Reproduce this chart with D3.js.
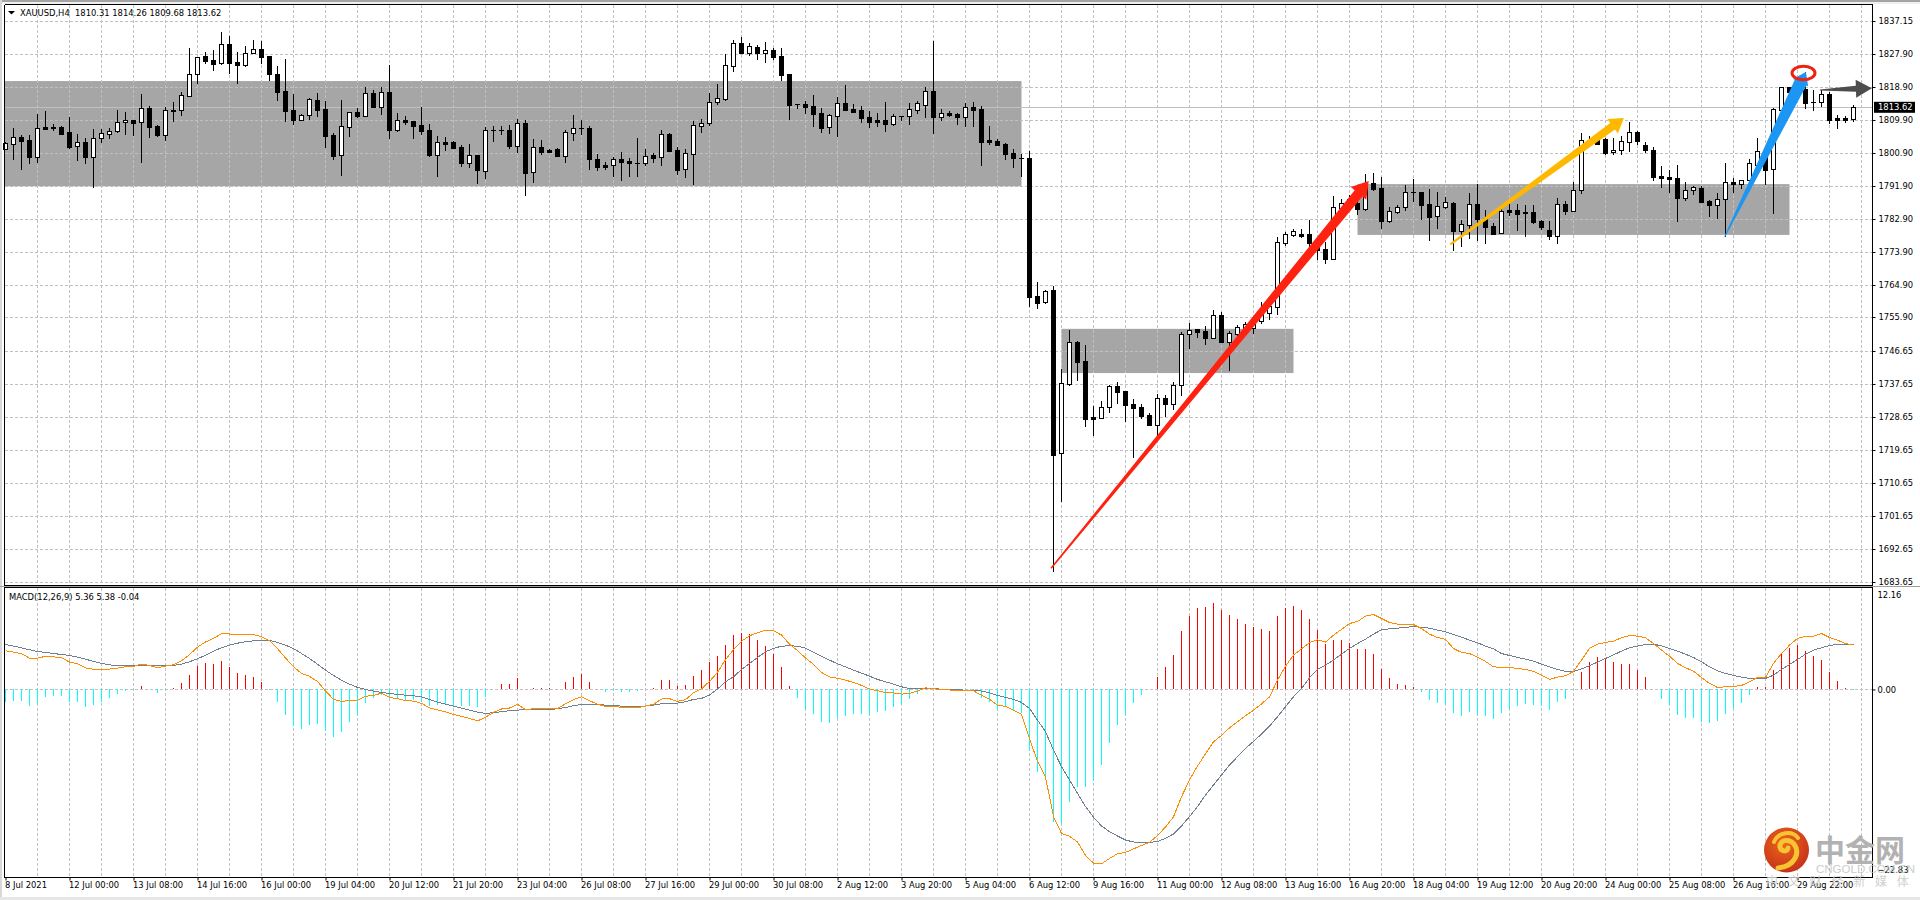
<!DOCTYPE html>
<html>
<head>
<meta charset="utf-8">
<title>XAUUSD,H4</title>
<script src="https://d3js.org/d3.v7.min.js"></script>
<style>
  html, body { margin: 0; padding: 0; background: #fff; overflow: hidden; }
  svg { display: block; }
  text { font-family: "DejaVu Sans Condensed", "DejaVu Sans", sans-serif; font-size: 9.3px; fill: #000; }
</style>
</head>
<body>
<svg id="chart" width="1920" height="900"></svg>
<script>
// XAUUSD H4 candles, oldest first
const opens = [
1802.3,1803.7,1805.5,1804.7,1800.1,1808.2,1808.1,1808.2,1806.8,1802.9,
1804.0,1800.1,1805.1,1806.2,1807.0,1809.5,1810.1,1809.5,1813.4,1808.5,
1806.1,1812.8,1812.8,1816.7,1822.6,1827.7,1826.6,1825.7,1831.0,1826.0,
1825.3,1828.4,1829.6,1827.7,1822.7,1818.1,1812.9,1810.2,1811.4,1815.6,
1813.2,1806.0,1800.7,1808.3,1812.3,1811.3,1817.6,1813.8,1817.8,1807.5,
1810.1,1809.9,1808.8,1807.4,1800.7,1804.0,1804.0,1802.8,1798.5,1800.6,
1796.3,1807.3,1807.3,1807.4,1803.1,1809.3,1795.8,1802.8,1802.0,1802.2,
1800.4,1806.7,1807.9,1808.0,1799.5,1797.8,1797.7,1799.5,1798.8,1798.5,
1798.5,1800.7,1799.9,1806.3,1802.0,1796.7,1800.9,1808.6,1809.4,1815.0,
1816.0,1825.0,1831.2,1828.6,1830.0,1828.6,1829.2,1827.7,1822.7,1814.4,
1814.5,1813.9,1812.1,1808.1,1811.3,1814.8,1813.2,1812.9,1811.0,1810.1,
1810.1,1809.1,1811.2,1811.2,1813.0,1814.3,1818.1,1811.1,1812.1,1811.8,
1811.1,1813.7,1813.2,1804.6,1804.4,1803.6,1801.1,1799.8,1799.8,1761.9,
1760.3,1763.6,1719.1,1738.0,1749.4,1744.2,1728.9,1728.7,1731.5,1737.4,
1736.0,1732.4,1731.6,1729.4,1726.7,1734.1,1732.4,1737.5,1751.7,1753.0,
1752.4,1750.6,1756.8,1749.5,1751.7,1752.7,1753.3,1755.2,1757.4,1759.1,
1776.6,1778.8,1778.9,1778.9,1776.5,1774.9,1772.1,1786.0,1787.2,1787.4,
1785.8,1792.9,1791.6,1782.6,1785.0,1786.3,1790.4,1790.5,1787.2,1783.8,
1786.4,1787.4,1779.9,1781.5,1787.2,1783.3,1781.2,1779.1,1785.4,1785.4,
1784.9,1784.9,1782.5,1780.0,1778.5,1787.2,1785.3,1790.9,1804.3,1804.9,
1805.0,1801.3,1801.8,1804.2,1806.9,1803.3,1802.0,1794.8,1794.6,1794.3,
1788.9,1790.9,1791.6,1788.0,1787.0,1788.4,1793.2,1792.7,1793.6,1797.8,
1801.7,1796.7,1812.9,1819.2,1817.0,1818.6,1815.0,1815.0,1817.3,1810.7,
1810.7,1810.31
];
const highs = [
1804.2,1807.9,1806.0,1806.0,1811.7,1812.6,1809.1,1808.5,1811.0,1806.3,
1805.1,1807.6,1807.6,1807.9,1812.9,1812.3,1810.2,1817.3,1814.0,1808.7,
1813.6,1815.2,1817.7,1829.9,1827.3,1828.8,1829.3,1834.2,1833.2,1828.8,
1830.4,1832.0,1831.8,1827.7,1825.0,1826.8,1817.3,1811.8,1816.2,1817.5,
1815.4,1806.7,1815.6,1812.3,1813.3,1819.2,1818.4,1819.2,1825.2,1812.0,
1811.2,1809.9,1813.7,1809.1,1805.8,1805.5,1804.4,1803.3,1803.6,1800.6,
1808.2,1808.4,1808.4,1808.7,1810.3,1810.2,1804.9,1804.7,1802.2,1802.4,
1807.4,1811.5,1810.1,1808.5,1800.9,1798.7,1799.9,1801.4,1799.8,1805.2,
1802.2,1801.0,1807.4,1806.6,1802.8,1802.2,1809.9,1810.4,1817.5,1820.0,
1828.1,1832.0,1832.9,1831.2,1830.7,1831.5,1829.9,1829.9,1822.7,1814.6,
1815.4,1817.0,1813.4,1811.8,1816.5,1819.7,1814.5,1814.0,1812.6,1812.1,
1815.1,1811.8,1811.3,1814.8,1815.4,1819.2,1831.8,1813.2,1812.6,1812.1,
1814.8,1815.1,1814.0,1808.5,1804.9,1803.9,1802.2,1800.9,1801.7,1765.8,
1763.6,1764.7,1742.0,1752.7,1749.7,1748.6,1731.9,1733.3,1737.6,1738.5,
1736.0,1733.8,1732.4,1730.0,1735.2,1734.9,1738.5,1752.2,1754.6,1753.0,
1753.8,1758.2,1757.6,1752.3,1754.1,1755.0,1755.9,1760.4,1760.4,1778.1,
1779.5,1780.2,1780.2,1782.8,1777.3,1776.8,1789.4,1788.5,1789.6,1788.3,
1795.4,1795.7,1794.6,1786.4,1786.9,1792.4,1794.0,1790.5,1791.3,1790.5,
1789.1,1787.7,1782.8,1790.2,1792.6,1785.5,1782.0,1785.9,1787.2,1787.2,
1786.9,1786.9,1782.8,1782.5,1788.8,1788.0,1793.2,1806.6,1805.8,1805.3,
1805.1,1805.2,1805.8,1809.6,1807.2,1804.1,1802.8,1797.6,1796.5,1797.8,
1793.2,1792.1,1792.1,1788.3,1790.1,1798.4,1794.2,1793.7,1799.5,1805.2,
1802.4,1813.4,1819.1,1819.2,1819.5,1823.3,1818.4,1818.4,1817.8,1811.5,
1811.2,1814.26
];
const lows = [
1801.8,1799.2,1796.5,1798.1,1798.4,1807.8,1807.2,1806.3,1802.2,1798.9,
1798.1,1791.6,1803.9,1805.0,1806.5,1806.0,1805.8,1798.4,1805.3,1805.6,
1804.4,1809.7,1811.2,1816.5,1820.0,1825.6,1823.6,1825.2,1822.7,1820.0,
1824.7,1828.4,1825.5,1820.8,1815.4,1809.6,1808.8,1810.0,1810.2,1810.9,
1802.4,1799.2,1794.8,1805.5,1810.7,1811.3,1813.4,1811.5,1805.0,1806.9,
1808.8,1805.0,1806.0,1799.9,1794.6,1801.7,1802.3,1797.3,1797.0,1792.6,
1794.0,1804.1,1806.0,1802.2,1801.0,1789.4,1792.9,1800.7,1801.1,1800.0,
1798.4,1804.4,1806.0,1796.5,1796.2,1796.5,1794.6,1793.5,1794.6,1794.6,
1797.6,1798.4,1797.6,1801.5,1795.1,1794.3,1792.4,1806.6,1808.5,1814.3,
1815.3,1823.3,1828.2,1827.7,1826.6,1825.8,1826.6,1820.8,1810.2,1813.2,
1811.8,1808.2,1806.6,1806.3,1805.5,1812.6,1812.1,1809.3,1808.0,1808.2,
1806.9,1808.5,1809.9,1808.8,1811.8,1810.7,1806.3,1809.9,1811.0,1808.8,
1808.2,1808.2,1797.6,1803.3,1803.3,1799.2,1797.0,1794.6,1758.9,1758.4,
1759.9,1686.6,1705.6,1737.4,1738.7,1726.2,1723.7,1728.4,1730.0,1732.4,
1727.5,1717.7,1728.3,1726.7,1723.5,1728.9,1730.8,1734.6,1747.5,1750.5,
1748.6,1750.5,1749.1,1741.5,1750.9,1751.8,1751.6,1754.3,1755.4,1756.9,
1775.7,1778.1,1777.9,1775.5,1771.9,1770.8,1771.8,1785.5,1786.0,1784.2,
1785.3,1790.8,1780.3,1782.0,1784.4,1785.2,1787.7,1782.8,1777.0,1780.3,
1785.7,1774.3,1775.4,1777.6,1777.0,1776.2,1778.9,1778.9,1783.9,1779.8,
1778.1,1781.7,1780.1,1777.3,1776.2,1784.2,1785.0,1789.9,1803.5,1803.5,
1800.5,1800.5,1800.6,1801.4,1803.3,1801.1,1793.5,1791.6,1790.2,1782.2,
1788.0,1789.6,1787.4,1783.6,1783.1,1778.2,1790.2,1791.3,1792.8,1797.8,
1792.4,1784.4,1812.9,1817.0,1816.5,1813.2,1812.6,1813.7,1809.1,1807.7,
1809.3,1809.68
];
const closes = [
1803.8,1805.4,1804.4,1800.1,1807.9,1807.8,1807.9,1806.4,1802.8,1804.0,
1800.1,1805.1,1806.5,1807.1,1809.5,1810.1,1809.4,1813.3,1808.3,1806.1,
1812.8,1812.7,1816.9,1822.6,1827.3,1826.4,1825.6,1830.9,1825.8,1825.3,
1828.4,1829.5,1827.4,1822.6,1817.9,1812.7,1810.2,1811.4,1815.9,1812.9,
1805.9,1800.4,1808.4,1812.3,1811.2,1817.5,1813.7,1817.7,1807.4,1810.1,
1809.5,1808.6,1807.2,1800.6,1804.0,1803.7,1802.5,1798.5,1800.6,1796.5,
1807.3,1807.3,1807.3,1803.0,1809.2,1795.7,1802.7,1801.4,1801.4,1800.3,
1806.8,1807.9,1807.9,1799.5,1797.3,1797.3,1799.4,1798.7,1798.4,1798.5,
1800.2,1799.8,1806.2,1801.7,1796.5,1801.0,1808.7,1809.2,1815.0,1816.1,
1825.1,1831.1,1828.5,1830.3,1828.6,1829.2,1827.5,1822.5,1814.3,1814.4,
1813.8,1811.8,1808.0,1811.4,1814.7,1812.9,1812.3,1810.7,1809.6,1809.6,
1809.1,1811.2,1811.2,1813.1,1814.7,1818.0,1811.0,1812.0,1811.5,1811.1,
1813.6,1812.9,1804.1,1804.1,1803.3,1800.9,1799.8,1799.8,1761.8,1760.2,
1763.3,1718.5,1738.1,1749.3,1743.9,1728.4,1728.3,1731.5,1737.3,1735.7,
1732.2,1731.4,1729.2,1726.7,1734.0,1732.4,1737.6,1751.5,1752.8,1752.2,
1750.5,1756.7,1749.4,1751.8,1753.4,1754.2,1755.4,1757.5,1759.3,1776.7,
1778.9,1779.7,1778.4,1776.5,1774.6,1772.1,1786.3,1787.4,1788.6,1785.8,
1792.4,1791.3,1782.6,1785.3,1786.3,1790.5,1790.4,1786.9,1783.6,1786.5,
1787.6,1779.8,1781.6,1787.1,1783.1,1780.9,1779.0,1785.2,1785.1,1784.5,
1784.6,1782.2,1781.0,1778.5,1787.1,1785.3,1790.9,1804.6,1804.0,1803.7,
1801.0,1802.0,1804.4,1806.8,1804.4,1801.8,1794.6,1794.3,1794.1,1788.8,
1790.9,1791.7,1787.7,1786.9,1788.4,1793.1,1792.6,1793.7,1798.3,1801.6,
1796.5,1813.2,1819.1,1817.8,1818.8,1814.9,1815.0,1817.2,1810.2,1810.2,
1810.2,1813.62
];

// MACD(12,26,9): histogram, main line and signal line, one value per candle
const macdHist = [
-1.49,-1.41,-1.41,-2.02,-1.61,-0.93,-0.81,-0.77,-1.57,-1.57,
-2.14,-1.90,-1.57,-1.01,-0.56,-0.24,-0.12,0.40,0.08,-0.44,
-0.08,0.16,0.77,1.73,2.82,3.19,3.06,3.43,2.70,1.98,
1.73,1.49,0.89,-0.08,-1.49,-3.10,-4.44,-4.80,-4.31,-4.19,
-5.04,-5.77,-5.16,-3.95,-3.10,-1.65,-1.05,-0.69,-0.93,-1.05,
-1.29,-1.29,-1.57,-2.02,-1.90,-1.90,-2.02,-2.02,-2.02,-2.14,
-0.93,0.08,0.65,0.65,1.41,0.04,0.16,0.20,0.16,0.04,
0.89,1.49,1.85,0.89,0.04,-0.28,-0.20,-0.28,-0.28,-0.24,
0.00,0.20,1.13,1.13,0.40,0.52,1.61,2.34,3.31,4.03,
5.36,6.57,6.81,6.69,5.97,5.24,4.27,2.70,0.40,-1.05,
-2.38,-2.98,-3.95,-4.07,-3.47,-3.23,-2.98,-2.98,-3.10,-2.74,
-2.62,-2.14,-1.77,-1.17,-0.56,0.16,0.00,-0.08,-0.12,-0.20,
-0.08,-0.20,-1.05,-1.53,-2.38,-2.14,-2.62,-2.86,-7.34,-10.00,
-11.00,-16.10,-16.17,-13.60,-11.80,-11.80,-11.10,-9.15,-6.50,-4.30,
-3.00,-1.65,-0.69,0.00,1.49,2.70,4.15,7.06,8.87,9.84,
9.96,10.44,9.60,8.99,8.50,7.90,7.54,7.30,7.06,8.87,
9.84,10.08,9.60,8.50,7.18,5.48,5.97,5.97,5.60,4.88,
4.88,4.27,2.46,1.37,0.65,0.48,0.28,-0.28,-1.29,-1.65,
-1.77,-2.86,-3.23,-2.74,-2.98,-3.23,-3.59,-2.86,-2.38,-2.02,
-1.77,-1.90,-2.02,-2.50,-1.53,-1.17,-0.12,2.10,3.31,3.91,
3.79,3.31,3.06,3.06,2.34,1.49,0.00,-1.17,-1.90,-3.10,
-3.47,-3.47,-3.95,-4.07,-3.83,-2.98,-2.26,-1.65,-0.69,0.28,
0.28,2.34,4.27,5.00,5.36,4.64,4.03,3.55,2.10,1.01,
0.16,-0.04
];
const macdMain = [
4.69,4.53,4.33,3.79,3.79,4.01,3.94,3.84,3.32,3.12,
2.60,2.44,2.36,2.47,2.58,2.74,2.80,3.06,2.90,2.64,
2.82,2.98,3.45,4.22,5.12,5.75,6.17,6.76,6.71,6.59,
6.64,6.64,6.38,5.89,4.94,3.81,2.74,1.95,1.59,0.96,
-0.18,-1.20,-1.45,-1.33,-1.31,-0.83,-0.73,-0.45,-0.95,-1.13,
-1.34,-1.42,-1.68,-2.22,-2.48,-2.72,-3.03,-3.27,-3.51,-3.81,
-3.37,-2.78,-2.37,-2.25,-1.80,-2.44,-2.34,-2.32,-2.34,-2.32,
-1.73,-1.23,-0.88,-1.36,-1.79,-2.04,-2.04,-2.16,-2.24,-2.22,
-2.02,-1.80,-1.16,-1.12,-1.45,-1.23,-0.41,0.08,0.97,2.06,
3.61,4.82,5.83,6.50,6.86,7.18,7.10,6.59,5.48,4.71,
3.81,3.03,2.05,1.51,1.36,1.12,0.85,0.49,0.06,-0.16,
-0.38,-0.42,-0.57,-0.47,-0.20,0.20,0.08,0.00,-0.06,-0.14,
-0.12,-0.18,-0.73,-1.17,-1.92,-2.04,-2.52,-3.00,-5.97,-8.71,
-10.62,-15.39,-17.44,-17.77,-18.48,-20.09,-21.03,-21.11,-20.47,-19.89,
-19.73,-19.30,-18.90,-18.51,-17.68,-16.67,-15.42,-13.00,-10.96,-9.27,
-7.80,-6.35,-5.56,-4.65,-3.90,-3.19,-2.52,-1.75,-0.91,1.13,
2.82,4.15,4.92,5.66,6.01,5.73,6.57,7.26,7.98,8.23,
8.87,9.07,8.59,8.10,7.90,7.86,7.86,7.38,6.69,6.29,
6.05,4.96,4.48,4.35,3.91,3.39,2.74,2.66,2.66,2.54,
2.42,2.18,1.73,1.21,1.49,1.65,2.18,3.55,4.96,5.48,
5.69,5.85,6.25,6.53,6.45,6.25,5.56,4.76,4.03,3.15,
2.62,2.22,1.45,0.73,0.24,0.32,0.36,0.48,0.93,1.45,
1.45,3.15,4.35,5.36,6.17,6.41,6.45,6.77,6.29,5.97,
5.56,5.36
];
const macdSignal = [
5.44,5.24,5.04,4.80,4.60,4.48,4.35,4.23,4.11,3.91,
3.67,3.39,3.15,2.98,2.86,2.86,2.86,2.86,2.86,2.86,
2.86,2.90,3.06,3.35,3.71,4.15,4.64,5.04,5.36,5.60,
5.77,5.89,5.93,5.93,5.69,5.36,4.96,4.35,3.75,3.06,
2.34,1.69,1.13,0.65,0.24,0.00,-0.20,-0.36,-0.48,-0.60,
-0.69,-0.77,-0.89,-1.21,-1.53,-1.77,-2.02,-2.26,-2.50,-2.74,
-2.90,-2.82,-2.70,-2.58,-2.50,-2.46,-2.42,-2.42,-2.42,-2.34,
-2.18,-1.98,-1.81,-1.81,-1.81,-1.90,-1.94,-2.02,-2.10,-2.10,
-2.02,-1.90,-1.73,-1.69,-1.65,-1.49,-1.21,-1.09,-0.69,0.04,
0.93,1.53,2.42,3.15,3.87,4.56,4.96,5.24,5.28,5.24,
5.00,4.52,4.03,3.55,3.10,2.74,2.34,1.98,1.61,1.21,
0.93,0.65,0.32,0.12,0.08,0.12,0.08,0.04,0.00,-0.04,
-0.08,-0.08,-0.20,-0.40,-0.73,-0.97,-1.21,-1.57,-2.30,-3.71,
-5.12,-7.34,-9.35,-10.97,-12.58,-14.19,-15.48,-16.53,-17.22,-17.74,
-18.23,-18.47,-18.55,-18.51,-18.43,-18.02,-17.50,-16.53,-15.40,-14.19,
-12.78,-11.57,-10.36,-9.15,-8.15,-7.14,-6.29,-5.40,-4.44,-3.31,
-2.10,-0.89,0.12,1.41,2.42,2.94,3.55,4.27,4.96,5.56,
6.09,6.69,7.22,7.34,7.42,7.50,7.62,7.50,7.42,7.18,
6.98,6.65,6.33,5.97,5.65,5.24,4.92,4.35,4.11,3.87,
3.67,3.43,3.06,2.74,2.42,2.18,2.18,2.50,2.86,3.31,
3.75,4.19,4.64,5.04,5.24,5.44,5.48,5.28,4.96,4.64,
4.27,3.87,3.35,2.74,2.26,1.94,1.69,1.49,1.33,1.29,
1.33,1.73,2.42,3.02,3.63,4.27,4.76,5.04,5.32,5.44,
5.44,5.38
];

// Axis labels
const priceTicks = [1837.15,1827.90,1818.90,1809.90,1800.90,1791.90,1782.90,1773.90,1764.90,1755.90,
                    1746.65,1737.65,1728.65,1719.65,1710.65,1701.65,1692.65,1683.65];
const macdTicks = [12.16, 0, -22.83];
const timeLabels = ["8 Jul 2021","12 Jul 00:00","13 Jul 08:00","14 Jul 16:00","16 Jul 00:00","19 Jul 04:00",
  "20 Jul 12:00","21 Jul 20:00","23 Jul 04:00","26 Jul 08:00","27 Jul 16:00","29 Jul 00:00","30 Jul 08:00",
  "2 Aug 12:00","3 Aug 20:00","5 Aug 04:00","6 Aug 12:00","9 Aug 16:00","11 Aug 00:00","12 Aug 08:00",
  "13 Aug 16:00","16 Aug 20:00","18 Aug 04:00","19 Aug 12:00","20 Aug 20:00","24 Aug 00:00","25 Aug 08:00",
  "26 Aug 16:00","29 Aug 22:00"];

// Consolidation zones: first bar, last bar, upper price, lower price
const zoneFirstBar = [0, 132, 169];
const zoneLastBar = [127, 161, 223];
const zoneUpper = [1820.8, 1753.0, 1792.6];
const zoneLower = [1792.0, 1740.9, 1778.7];

// Hand-drawn trend arrows: tail and tip as bar index and price
const arrowTailBar = [130.7, 180.6, 214.9, 226.8];
const arrowTailPrice = [1687.5, 1776.1, 1778.2, 1818.35];
const arrowTipBar = [170.4, 202.3, 225.05, 233.3];
const arrowTipPrice = [1793.45, 1810.7, 1823.3, 1818.8];
const arrowColors = ["#ff2210", "#ffb800", "#1b96f3", "#4d4d4d"];
const arrowTailWidth = [1.5, 2, 1, 1];
const arrowNeckWidth = [10, 8, 13, 6];
const arrowHeadWidth = [20, 18, 17, 18];
const arrowHeadLength = [16, 14, 12, 16];

// Marker ring around the latest swing high
const ringBar = 224.75;
const ringPrice = 1823.0;

const lastBar = opens.length - 1;
const svg = d3.select("#chart");

const x = d3.scaleLinear().domain([0, lastBar]).range([5.5, 1853.5]);
const y = d3.scaleLinear().domain([1683.65, 1837.15]).range([582.3, 21.3]);
const yMacd = d3.scaleLinear().domain([-22.83, 12.16]).range([878, 589]);

const left = 4.5, right = 1872.5, mainTop = 4.5, mainBottom = 585.5, subTop = 587.5, subBottom = 877.5;
const snap = v => Math.floor(v - 0.3) + 0.5;
const gridBars = d3.range(4, lastBar + 2, 4);
const labelBars = timeLabels.map((_, i) => i * 8);

// Window chrome
svg.append("rect").attr("width", 1920).attr("height", 2).attr("fill", "#a4a4a4");
svg.append("rect").attr("y", 2).attr("width", 1920).attr("height", 2).attr("fill", "#efefef");
svg.append("rect").attr("y", 0).attr("width", 2).attr("height", 900).attr("fill", "#d8d8d8");
svg.append("rect").attr("y", 897).attr("width", 1920).attr("height", 3).attr("fill", "#e6e6e6");

// Consolidation zones sit under the grid
svg.append("g").selectAll("rect").data(zoneFirstBar).join("rect")
  .attr("x", (d, i) => i === 0 ? left : x(d))
  .attr("y", (d, i) => y(zoneUpper[i]))
  .attr("width", (d, i) => x(zoneLastBar[i]) - (i === 0 ? left : x(d)))
  .attr("height", (d, i) => y(zoneLower[i]) - y(zoneUpper[i]))
  .attr("fill", "#a6a6a6");

// Grid
const grid = svg.append("g").attr("stroke", "#c0c0c0").attr("stroke-dasharray", "3 2").attr("shape-rendering", "crispEdges");
grid.selectAll(".h").data(priceTicks).join("line").attr("class", "h")
  .attr("x1", left).attr("x2", right).attr("y1", d => snap(y(d))).attr("y2", d => snap(y(d)));
grid.selectAll(".v").data(gridBars).join("line").attr("class", "v")
  .attr("x1", d => x(d)).attr("x2", d => x(d)).attr("y1", mainTop).attr("y2", mainBottom);
grid.selectAll(".m").data(gridBars).join("line").attr("class", "m")
  .attr("x1", d => x(d)).attr("x2", d => x(d)).attr("y1", subTop).attr("y2", subBottom);
grid.append("line").attr("x1", left).attr("x2", right)
  .attr("y1", Math.floor(yMacd(0)) + 0.5).attr("y2", Math.floor(yMacd(0)) + 0.5);

// Last-price line
svg.append("line").attr("x1", left).attr("x2", right)
  .attr("y1", Math.floor(y(closes[lastBar])) + 0.5).attr("y2", Math.floor(y(closes[lastBar])) + 0.5)
  .attr("stroke", "#c0c0c0").attr("shape-rendering", "crispEdges");

// Candles
const candles = svg.append("g").attr("shape-rendering", "crispEdges");
const idx = d3.range(opens.length);
candles.selectAll(".wick").data(idx).join("line").attr("class", "wick")
  .attr("x1", i => x(i)).attr("x2", i => x(i))
  .attr("y1", i => Math.round(y(highs[i]))).attr("y2", i => Math.round(y(lows[i])))
  .attr("stroke", "#000");
candles.selectAll(".body").data(idx).join("rect").attr("class", "body")
  .each(function (i) {
    const top = Math.round(y(Math.max(opens[i], closes[i])));
    const bot = Math.round(y(Math.min(opens[i], closes[i])));
    const bull = closes[i] > opens[i];
    const el = d3.select(this);
    if (bot - top < 1) {
      el.attr("x", x(i) - 2.5).attr("y", top).attr("width", 5).attr("height", 1).attr("fill", "#000");
    } else if (bull) {
      el.attr("x", x(i) - 2).attr("y", top + 0.5).attr("width", 4).attr("height", bot - top)
        .attr("fill", "#fff").attr("stroke", "#000");
    } else {
      el.attr("x", x(i) - 2.5).attr("y", top).attr("width", 5).attr("height", bot - top + 1).attr("fill", "#000");
    }
  });

// MACD histogram
svg.append("g").attr("shape-rendering", "crispEdges").selectAll("line").data(idx).join("line")
  .attr("x1", i => x(i)).attr("x2", i => x(i))
  .attr("y1", yMacd(0)).attr("y2", i => yMacd(macdHist[i]))
  .attr("stroke", i => macdHist[i] >= 0 ? "#ff0000" : "#00ffff");

// MACD lines, aliased the way the terminal paints them
const macdLine = d3.line().x((d, i) => x(i)).y(d => yMacd(d));
svg.append("path").attr("d", macdLine(macdSignal)).attr("fill", "none").attr("stroke", "#708090")
  .attr("stroke-width", 1).attr("shape-rendering", "crispEdges");
svg.append("path").attr("d", macdLine(macdMain)).attr("fill", "none").attr("stroke", "#ff8c00")
  .attr("stroke-width", 1).attr("shape-rendering", "crispEdges");

// Tapered arrows, widening from a thin tail to the neck before the head
arrowColors.forEach((color, i) => {
  const x0 = x(arrowTailBar[i]), y0 = y(arrowTailPrice[i]);
  const x1 = x(arrowTipBar[i]), y1 = y(arrowTipPrice[i]);
  const len = Math.hypot(x1 - x0, y1 - y0);
  const ux = (x1 - x0) / len, uy = (y1 - y0) / len;
  const nx = -uy, ny = ux;
  const bx = x1 - ux * arrowHeadLength[i], by = y1 - uy * arrowHeadLength[i];
  const t = arrowTailWidth[i] / 2, n = arrowNeckWidth[i] / 2, h = arrowHeadWidth[i] / 2;
  const pts = [
    [x0 + nx * t, y0 + ny * t], [bx + nx * n, by + ny * n], [bx + nx * h, by + ny * h], [x1, y1],
    [bx - nx * h, by - ny * h], [bx - nx * n, by - ny * n], [x0 - nx * t, y0 - ny * t]
  ];
  svg.append("polygon").attr("points", pts.map(p => p.join(",")).join(" ")).attr("fill", color);
});
svg.append("ellipse").attr("cx", x(ringBar)).attr("cy", y(ringPrice)).attr("rx", 11.5).attr("ry", 6.8)
  .attr("fill", "none").attr("stroke", "#ee2211").attr("stroke-width", 3);

// Frame
const frame = svg.append("g").attr("stroke", "#000").attr("shape-rendering", "crispEdges");
frame.append("line").attr("x1", left).attr("x2", right).attr("y1", mainTop).attr("y2", mainTop);
frame.append("line").attr("x1", left).attr("x2", left).attr("y1", mainTop).attr("y2", subBottom);
frame.append("line").attr("x1", right).attr("x2", right).attr("y1", mainTop).attr("y2", subBottom);
frame.append("line").attr("x1", left).attr("x2", right).attr("y1", mainBottom).attr("y2", mainBottom);
frame.append("line").attr("x1", left).attr("x2", right).attr("y1", subTop).attr("y2", subTop);
frame.append("line").attr("x1", left).attr("x2", right).attr("y1", subBottom).attr("y2", subBottom);
svg.append("rect").attr("x", 0).attr("y", 586).attr("width", 1920).attr("height", 1).attr("fill", "#a0a0a0");

// Price axis
const priceAxis = svg.append("g").attr("transform", `translate(${right},0)`)
  .call(d3.axisRight(y).tickValues(priceTicks).tickSize(3).tickPadding(3).tickFormat(d3.format(".2f")));
priceAxis.select(".domain").remove();
priceAxis.selectAll(".tick").attr("transform", d => `translate(0,${snap(y(d))})`);

// MACD axis; the end labels are pulled inside the pane
const macdAxis = svg.append("g").attr("transform", `translate(${right},0)`)
  .call(d3.axisRight(yMacd).tickValues(macdTicks).tickSize(3).tickPadding(3).tickFormat(d3.format(".2f")));
macdAxis.select(".domain").remove();
macdAxis.selectAll(".tick").filter(d => d !== 0).select("line").remove();
macdAxis.selectAll(".tick text").attr("x", 5).attr("dy", d => d > 0 ? "0.9em" : d < 0 ? "-0.6em" : "0.32em");

// Time axis
const timeAxis = svg.append("g").attr("transform", `translate(0,${subBottom})`)
  .call(d3.axisBottom(x).tickValues(labelBars).tickSize(3).tickPadding(1).tickFormat((d, i) => timeLabels[i]));
timeAxis.select(".domain").remove();
timeAxis.selectAll(".tick text").attr("text-anchor", "start").attr("x", -1);

// Last-price tag
svg.append("rect").attr("x", 1874).attr("y", y(closes[lastBar]) - 5.5).attr("width", 41).attr("height", 11).attr("fill", "#000");
svg.append("text").attr("x", 1878).attr("y", y(closes[lastBar])).attr("dy", "0.34em")
  .style("fill", "#fff").text(closes[lastBar].toFixed(2));

// Chart and indicator captions
svg.append("path").attr("d", "M8,11 L15,11 L11.5,14.5 Z").attr("fill", "#000");
svg.append("text").attr("x", 20).attr("y", 16).attr("xml:space", "preserve")
  .text(`XAUUSD,H4  ${opens[lastBar].toFixed(2)} ${highs[lastBar].toFixed(2)} ${lows[lastBar].toFixed(2)} ${closes[lastBar].toFixed(2)}`);
svg.append("text").attr("x", 9).attr("y", 600)
  .text(`MACD(12,26,9) ${macdMain[lastBar].toFixed(2)} ${macdSignal[lastBar].toFixed(2)} ${macdHist[lastBar].toFixed(2)}`);

// Publisher mark
const defs = svg.append("defs");
const grad = defs.append("radialGradient").attr("id", "logoFill").attr("cx", "45%").attr("cy", "35%").attr("r", "70%");
grad.append("stop").attr("offset", "0%").attr("stop-color", "#f0661c");
grad.append("stop").attr("offset", "100%").attr("stop-color", "#c22f18");
const mark = svg.append("g");
mark.append("circle").attr("cx", 1786.5).attr("cy", 850).attr("r", 22.5).attr("fill", "url(#logoFill)");
mark.append("path")
  .attr("d", "M1778,868 C1796,866 1800,852 1794,844 C1789,838 1779,840 1780,847 C1781,852 1788,852 1788,848")
  .attr("fill", "none").attr("stroke", "#f7c531").attr("stroke-width", 5).attr("stroke-linecap", "round");
mark.append("path")
  .attr("d", "M1774,842 C1778,832 1792,830 1798,838")
  .attr("fill", "none").attr("stroke", "#f7c531").attr("stroke-width", 4).attr("stroke-linecap", "round");
mark.append("text").attr("x", 1815).attr("y", 861)
  .style("font-family", '"Noto Sans CJK SC"').style("font-size", "30px").style("font-weight", "700").style("fill", "#b2b2b2")
  .text("中金网");
mark.append("text").attr("x", 1816).attr("y", 873)
  .style("font-family", '"Liberation Sans"').style("font-size", "11.5px").style("fill", "#c4c4c4").style("opacity", 0.85)
  .text("CNGOLD.COM.CN");
mark.append("text").attr("x", 1766).attr("y", 886)
  .style("font-family", '"Noto Sans CJK SC"').style("font-size", "12px").style("fill", "#d0d0d0").style("letter-spacing", "9.8px")
  .text("中文财经新媒体");
</script>
</body>
</html>
